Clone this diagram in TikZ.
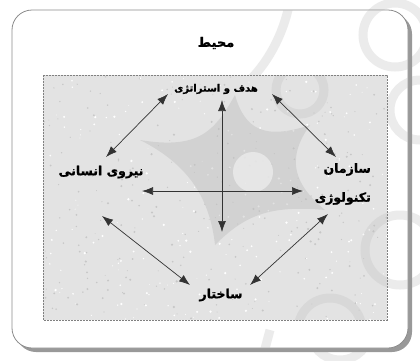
\documentclass[tikz,border=0pt]{standalone}
\usepackage{fontspec}
\newfontfamily\fa[Script=Arabic,BoldFont={DejaVu Sans Bold},BoldFeatures={FakeBold=1.2}]{DejaVu Sans}
\TeXXeTstate=1
\usetikzlibrary{arrows.meta}
\tikzset{
  lbl/.style={text=black, inner sep=1pt},
  link/.style={draw=black!80, line width=0.7pt, {Latex[length=11pt,width=8pt]}-{Latex[length=11pt,width=8pt]}},
  ornament/.style={draw=black!25, line width=9pt, opacity=0.3},
}
\begin{document}
\begin{tikzpicture}[x=1pt,y=-1pt]
\useasboundingbox (0,0) rectangle (420,360);
\fill[white] (0,0) rectangle (420,360);

% decorative background strokes
\begin{scope}
  \clip (0,0) rectangle (420,360);
  \draw[ornament] (395,35) circle (32);
  \draw[ornament] (420,110) circle (30);
  \draw[ornament] (400,250) circle (35);
  \draw[ornament] (340,330) circle (30);
\end{scope}

% outer frame with shadow
\fill[black!40, rounded corners=20pt] (16,14) rectangle (412,352);
\fill[white, rounded corners=20pt] (12,10) rectangle (408,348);
\draw[black!45, line width=0.8pt, rounded corners=20pt] (12,10) rectangle (408,348);
\begin{scope}
  \clip[rounded corners=20pt] (12,10) rectangle (408,348);
  \draw[ornament] (395,35) circle (32);
  \draw[ornament] (420,110) circle (30);
  \draw[ornament] (400,250) circle (35);
  \draw[ornament] (290,0) .. controls (285,30) and (270,60) .. (250,80);
  \draw[ornament] (270,330) -- (262,360);
\end{scope}

% inner textured panel
\fill[black!11] (43,75) rectangle (387,320);
\begin{scope}
  \clip (43,75) rectangle (387,320);
  \pgfmathsetseed{7}
  \foreach \i in {1,...,260}{
    \fill[black!22] ({43+344*rnd},{75+245*rnd}) circle ({0.4+0.8*rnd});
  }
  \foreach \i in {1,...,200}{
    \fill[white] ({43+344*rnd},{75+245*rnd}) circle ({0.4+0.9*rnd});
  }
  % concave star
  \fill[black!25, opacity=0.45]
    (140,140) .. controls (200,150) and (215,130) .. (235,95)
    .. controls (245,130) and (265,140) .. (310,125)
    .. controls (285,160) and (295,185) .. (325,210)
    .. controls (270,205) and (245,215) .. (215,245)
    .. controls (210,200) and (190,165) .. cycle;
  \fill[black!8, opacity=0.8] (253,172) circle (20);
  \draw[ornament] (395,35) circle (32);
  \draw[ornament] (400,250) circle (35);
  \draw[ornament] (330,330) circle (32);
  \draw[ornament] (300,90) circle (24);
\end{scope}
\draw[black!50, dashed, dash pattern=on 2pt off 1pt, line width=0.5pt] (43,75) rectangle (387,320);

% labels
\node[lbl, font=\fa\bfseries\fontsize{13}{15}\selectfont] (env) at (216,43) {\beginR محیط\endR};
\node[lbl, font=\fa\bfseries\fontsize{10}{12}\selectfont] (goal) at (216,89) {\beginR هدف و استراتژی\endR};
\node[lbl, font=\fa\bfseries\fontsize{12.5}{15}\selectfont] (human) at (101,172) {\beginR نیروی انسانی\endR};
\node[lbl, font=\fa\bfseries\fontsize{12.5}{15}\selectfont, align=right, anchor=east] (tech) at (372,184) {\beginR سازمان\endR\\[14pt] \beginR تکنولوژی\endR};
\node[lbl, font=\fa\bfseries\fontsize{12.5}{15}\selectfont] (struct) at (221,295) {\beginR ساختار\endR};

% connector end points
\coordinate (g1) at (168,94);
\coordinate (g2) at (272,94);
\coordinate (gv) at (222,100);
\coordinate (vb) at (222,232);
\coordinate (h1) at (106,157);
\coordinate (h2) at (102,216);
\coordinate (hx) at (142,191);
\coordinate (tx) at (303,191);
\coordinate (t1) at (336,157);
\coordinate (t2) at (328,214);
\coordinate (s1) at (190,285);
\coordinate (s2) at (250,285);

% connectors
\draw[link] (g1) -- (h1);
\draw[link] (g2) -- (t1);
\draw[link] (gv) -- (vb);
\draw[link] (hx) -- (tx);
\draw[link] (h2) -- (s1);
\draw[link] (t2) -- (s2);
\end{tikzpicture}
\end{document}
